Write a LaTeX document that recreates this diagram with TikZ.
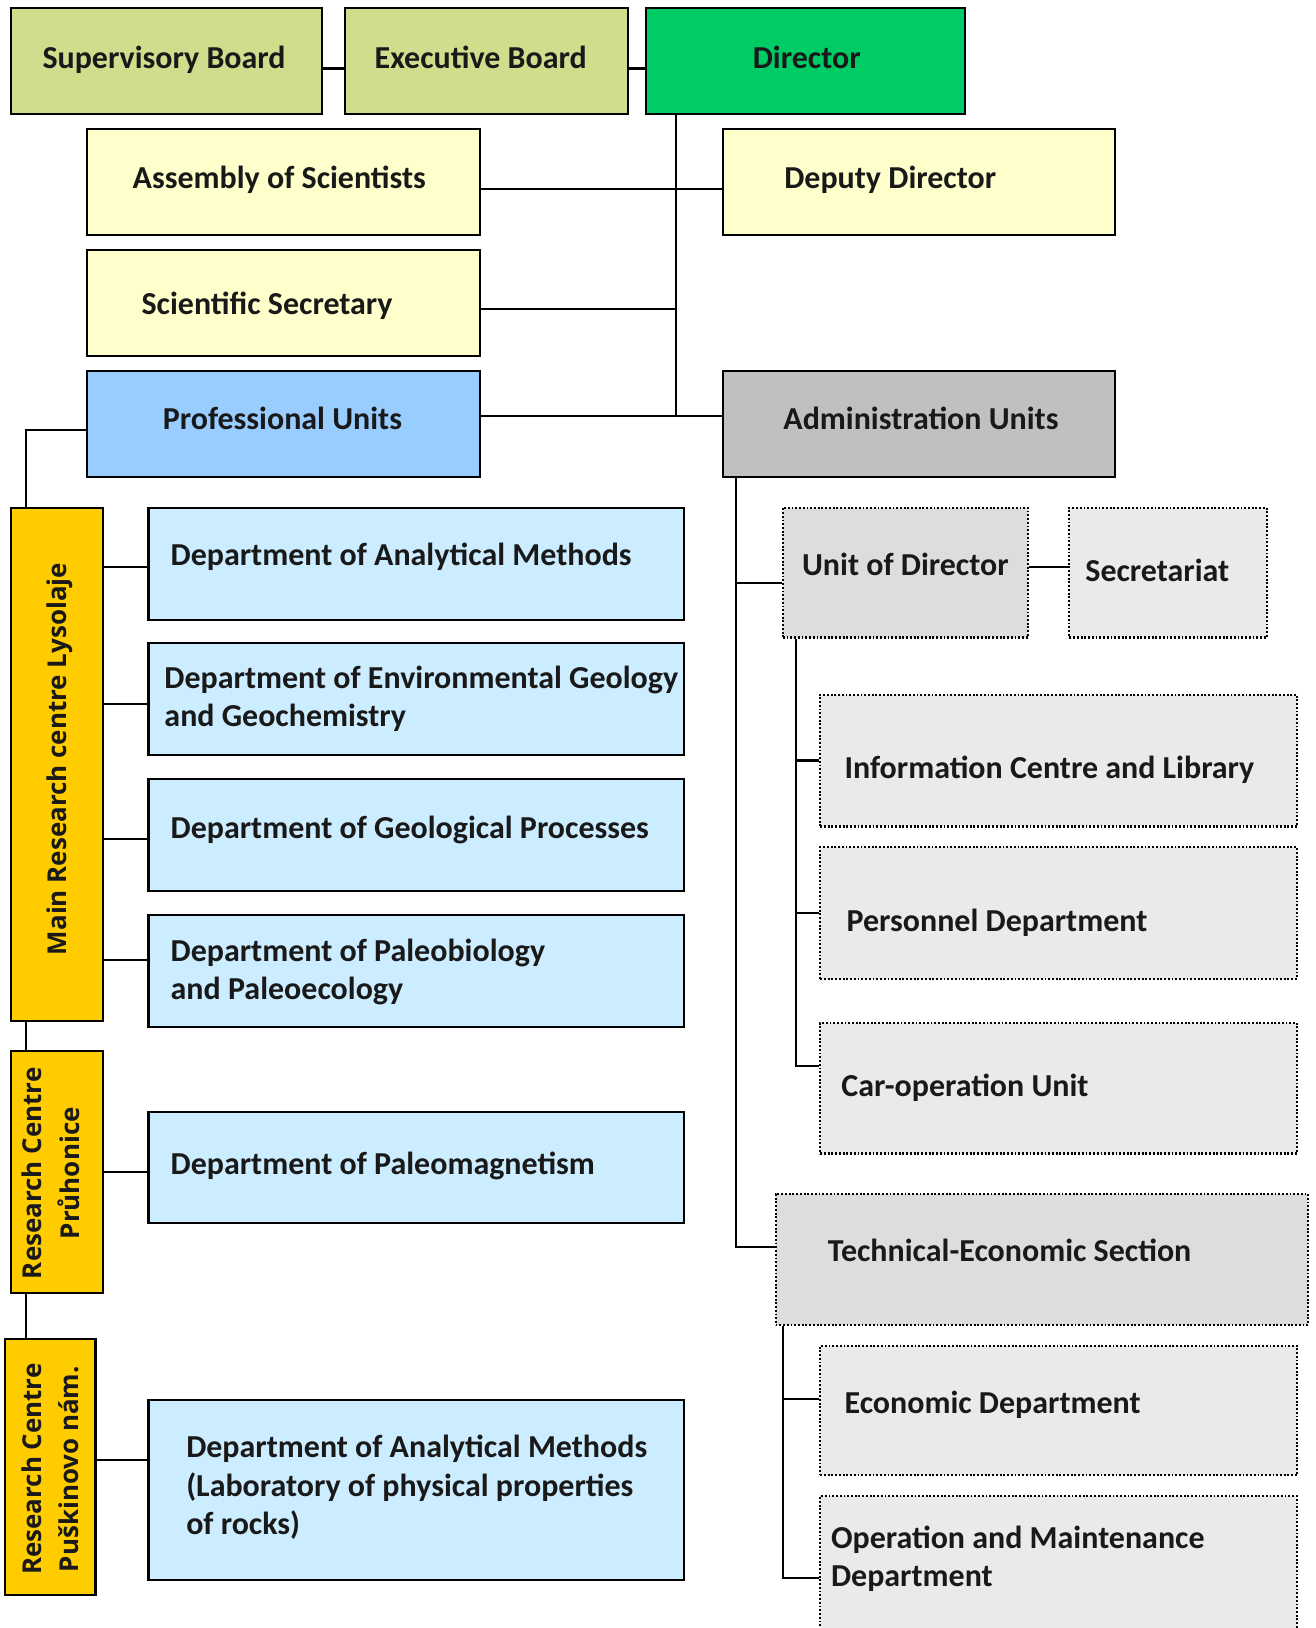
\documentclass[tikz,border=0pt]{standalone}
\usepackage{fontspec}
\setmainfont{Carlito}
\newfontfamily\barfont{Open Sans}
\usepackage{tikz}
\usetikzlibrary{positioning}
\usetikzlibrary{fit}
\definecolor{board}{HTML}{D1DC8C}
\definecolor{boss}{HTML}{00CC66}
\definecolor{cream}{HTML}{FFFFCC}
\definecolor{profblue}{HTML}{99CCFF}
\definecolor{admingray}{HTML}{C0C0C0}
\definecolor{centre}{HTML}{FFCC00}
\definecolor{deptblue}{HTML}{CCECFF}
\definecolor{secgray}{HTML}{DDDDDD}
\definecolor{subgray}{HTML}{EAEAEA}
\tikzset{unit/.style = {draw, line width=1pt, inner sep=0pt},
         dotunit/.style = {draw, line width=1pt, inner sep=0pt,
                           dash pattern=on 0.9pt off 0.9pt},
         link/.style = {line width=1pt},
         lbl/.style = {font=\bfseries\fontsize{15.4}{18.5}\selectfont,
                       text=black!90, inner sep=0pt, anchor=base west, align=left},
         bartxt/.style = {font=\barfont\bfseries\fontsize{12.5}{18}\selectfont,
                          text=black!90, inner sep=0pt, rotate=90, align=center}}

\begin{document}
\begin{tikzpicture}[x=0.5pt, y=-0.5pt]
    \useasboundingbox (0,0) rectangle (1267,1568);
    \clip (0,0) rectangle (1267,1568);

    \node[unit, fill=board, fit={(11,8) (310,110)}] (sb) {};
    \node[unit, fill=board, fit={(332,8) (605,110)}] (eb) {};
    \node[unit, fill=boss, fit={(622,8) (929,110)}] (dir) {};
    \node[unit, fill=cream, fit={(84,124) (462,226)}] (aos) {};
    \node[unit, fill=cream, fit={(696,124) (1074,226)}] (dd) {};
    \node[unit, fill=cream, fit={(84,241) (462,343)}] (ss) {};
    \node[unit, fill=profblue, fit={(84,357) (462,459)}] (pu) {};
    \node[unit, fill=admingray, fit={(696,357) (1074,459)}] (au) {};

    \node[unit, fill=centre, fit={(11,489) (99,983)}] (lys) {};
    \node[unit, fill=centre, fit={(11,1012) (99,1245)}] (pru) {};
    \node[unit, fill=centre, fit={(5,1290) (92,1536)}] (pus) {};

    \node[unit, fill=deptblue, fit={(143,489) (659,597)}] (dam) {};
    \node[unit, fill=deptblue, fit={(143,619) (659,727)}] (deg) {};
    \node[unit, fill=deptblue, fit={(143,750) (659,858)}] (dgp) {};
    \node[unit, fill=deptblue, fit={(143,881) (659,989)}] (dpp) {};
    \node[unit, fill=deptblue, fit={(143,1071) (659,1178)}] (dpm) {};
    \node[unit, fill=deptblue, fit={(143,1348) (659,1522)}] (dal) {};

    \node[dotunit, fill=secgray, fit={(754,489) (990,614)}] (ud) {};
    \node[dotunit, fill=subgray, fit={(1030,489) (1220,614)}] (sec) {};
    \node[dotunit, fill=subgray, fit={(790,669) (1249,796)}] (icl) {};
    \node[dotunit, fill=subgray, fit={(790,816) (1249,943)}] (pd) {};
    \node[dotunit, fill=subgray, fit={(790,985) (1249,1111)}] (cou) {};
    \node[dotunit, fill=secgray, fit={(747,1150) (1260,1276)}] (tes) {};
    \node[dotunit, fill=subgray, fit={(790,1296) (1249,1421)}] (ed) {};
    \node[dotunit, fill=subgray, fit={(790,1441) (1249,1620)}] (omd) {};

    \node[lbl, anchor=base] (sb-t) at (158,66) {Supervisory Board};
    \node[lbl, anchor=base] (eb-t) at (463,66) {Executive Board};
    \node[lbl, anchor=base] (dir-t) at (777,66) {Director};
    \node[lbl, anchor=base] (aos-t) at (269,182) {Assembly of Scientists};
    \node[lbl] (dd-t) at (755,182) {Deputy Director};
    \node[lbl] (ss-t) at (136,303) {Scientific Secretary};
    \node[lbl, anchor=base] (pu-t) at (272,414) {Professional Units};
    \node[lbl, anchor=base] (au-t) at (887,414) {Administration Units};

    \node[bartxt] (lys-t) at (58,731) {Main Research centre Lysolaje};
    \node[bartxt] (pru-t) at (49,1130) {Research Centre\\Průhonice};
    \node[bartxt] (pus-t) at (48.5,1415) {Research Centre\\Puškinovo nám.};

    \node[lbl] (dam-t) at (164,545) {Department of Analytical Methods};
    \node[lbl] (deg-t) at (158,700) {Department of Environmental Geology\\and Geochemistry};
    \node[lbl] (dgp-t) at (164,808) {Department of Geological Processes};
    \node[lbl] (dpp-t) at (164,963) {Department of Paleobiology\\and Paleoecology};
    \node[lbl] (dpm-t) at (164,1131) {Department of Paleomagnetism};
    \node[lbl] (dal-t) at (179,1478) {Department of Analytical Methods\\(Laboratory of physical properties\\of rocks)};

    \node[lbl, anchor=base] (ud-t) at (872,554) {Unit of Director};
    \node[lbl] (sec-t) at (1045,560) {Secretariat};
    \node[lbl] (icl-t) at (813,750) {Information Centre and Library};
    \node[lbl] (pd-t) at (815,897) {Personnel Department};
    \node[lbl] (cou-t) at (810,1056) {Car-operation Unit};
    \node[lbl] (tes-t) at (797,1215) {Technical-Economic Section};
    \node[lbl] (ed-t) at (813,1361) {Economic Department};
    \node[lbl] (omd-t) at (800,1528) {Operation and Maintenance\\Department};

    \draw[link] ([yshift=-3.5pt]sb.east) -- ([yshift=-3.5pt]eb.west);
    \draw[link] ([yshift=-3.5pt]eb.east) -- ([yshift=-3.5pt]dir.west);
    \draw[link] ([yshift=-3.5pt]aos.east) -- ([yshift=-3.5pt]dd.west);

    \coordinate (dirfoot) at ([xshift=15pt]dir.south west);
    \coordinate (puport) at ([yshift=3.5pt]pu.east);
    \coordinate (ssport) at ([yshift=-3pt]ss.east);
    \draw[link] (dirfoot) -- (dirfoot |- puport);
    \draw[link] (puport) -- (puport -| au.west);
    \draw[link] (ssport) -- (ssport -| dirfoot);

    \coordinate (lystop) at ([xshift=7.5pt]lys.north west);
    \draw[link] ([yshift=-3pt]pu.west) -| (lystop);
    \draw[link] (lystop |- lys.south) -- (lystop |- pru.north);
    \draw[link] (lystop |- pru.south) -- (lystop |- pus.north);

    \foreach \d/\s in {dam/-1.5pt, deg/-2.5pt, dgp/-2pt, dpp/5pt} {
      \coordinate (port) at ([yshift=\s]\d.west);
      \draw[link] (port) -- (port -| lys.east);
    }
    \coordinate (pmport) at ([yshift=-2pt]dpm.west);
    \draw[link] (pmport) -- (pmport -| pru.east);
    \coordinate (alport) at ([yshift=14.5pt]dal.west);
    \draw[link] (alport) -- (alport -| pus.east);

    \coordinate (aufoot) at ([xshift=7pt]au.south west);
    \coordinate (udport) at ([yshift=-5pt]ud.west);
    \coordinate (secport) at ([yshift=2.5pt]ud.east);
    \draw[link] (aufoot) |- ([yshift=6pt]tes.west);
    \draw[link] (udport) -- (udport -| aufoot);
    \draw[link] (secport) -- (secport -| sec.west);

    \coordinate (udfoot) at ([xshift=7pt]ud.south west);
    \draw[link] (udfoot) |- ([yshift=10.5pt]cou.west);
    \foreach \d in {icl, pd} {
      \draw[link] (\d.west) -- (\d.west -| udfoot);
    }

    \coordinate (tesfoot) at ([xshift=4pt]tes.south west);
    \coordinate (edport) at ([yshift=5.75pt]ed.west);
    \draw[link] (tesfoot) |- ([yshift=-40pt]omd.north west);
    \draw[link] (edport) -- (edport -| tesfoot);
\end{tikzpicture}
\end{document}
